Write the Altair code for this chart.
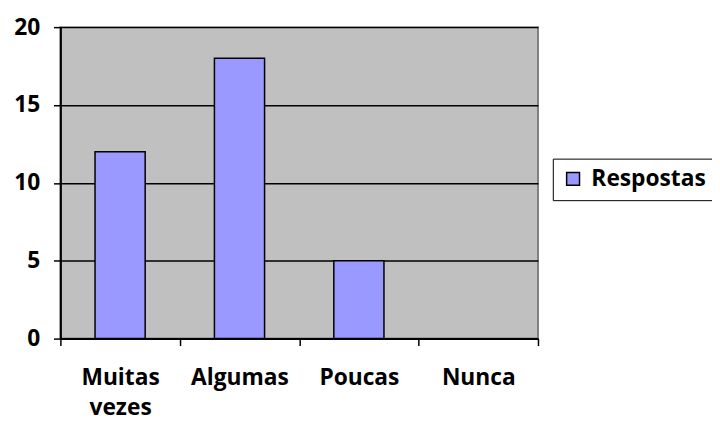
import altair as alt
import pandas as pd

categories = ["Muitas vezes", "Algumas", "Poucas", "Nunca"]
values = [12, 18, 5, 0]
series = ["Respostas"] * 4

df = pd.DataFrame({"cat": categories, "val": values, "serie": series})

FONT = "Open Sans"
FS = 23

bars = alt.Chart(df).mark_bar(stroke="black", width=alt.RelativeBandSize(0.42)).encode(
    x=alt.X("cat:N", sort=categories, title=None,
            scale=alt.Scale(paddingInner=0, paddingOuter=0),
            axis=alt.Axis(labelAngle=0, labelFontSize=FS, labelFontWeight="bold",
                          labelFont=FONT, labelColor="black", labelPadding=32,
                          labelLineHeight=31, labelBaseline="middle",
                          labelExpr="datum.value == 'Muitas vezes' ? ['Muitas','vezes'] : datum.value",
                          tickColor="black", tickSize=7, tickWidth=1.5,
                          domainColor="black", domainWidth=2,
                          tickBand="extent", grid=False)),
    y=alt.Y("val:Q", title=None, scale=alt.Scale(domain=[0, 20], nice=False),
            axis=alt.Axis(values=[0, 5, 10, 15, 20], labelFontSize=FS, labelFontWeight="bold",
                          labelFont=FONT, labelColor="black", labelPadding=14,
                          tickColor="black", tickSize=7, tickWidth=1.5,
                          domainColor="black", domainWidth=2,
                          gridColor="black", gridWidth=1.5)),
    strokeWidth=alt.condition("datum.val == 0", alt.value(0), alt.value(1.5)),
    color=alt.Color("serie:N", scale=alt.Scale(range=["#9999FF"]), title=None,
                    legend=alt.Legend(orient="none", legendX=498, legendY=133,
                                      labelFontSize=FS, labelFontWeight="bold", labelFont=FONT,
                                      labelColor="black", symbolType="square", symbolSize=170,
                                      symbolStrokeColor="black", symbolStrokeWidth=1.5,
                                      strokeColor="black", fillColor="white",
                                      padding=9, labelOffset=7)),
)

chart = bars.properties(
    width=483, height=315,
    padding={"left": 53, "top": 17, "right": 176, "bottom": 81},
    autosize=alt.AutoSizeParams(type="none"),
).configure_view(fill="#C0C0C0", stroke="#808080", strokeWidth=2)

chart.save("out.html", embed_options={"renderer": "svg", "actions": False})
